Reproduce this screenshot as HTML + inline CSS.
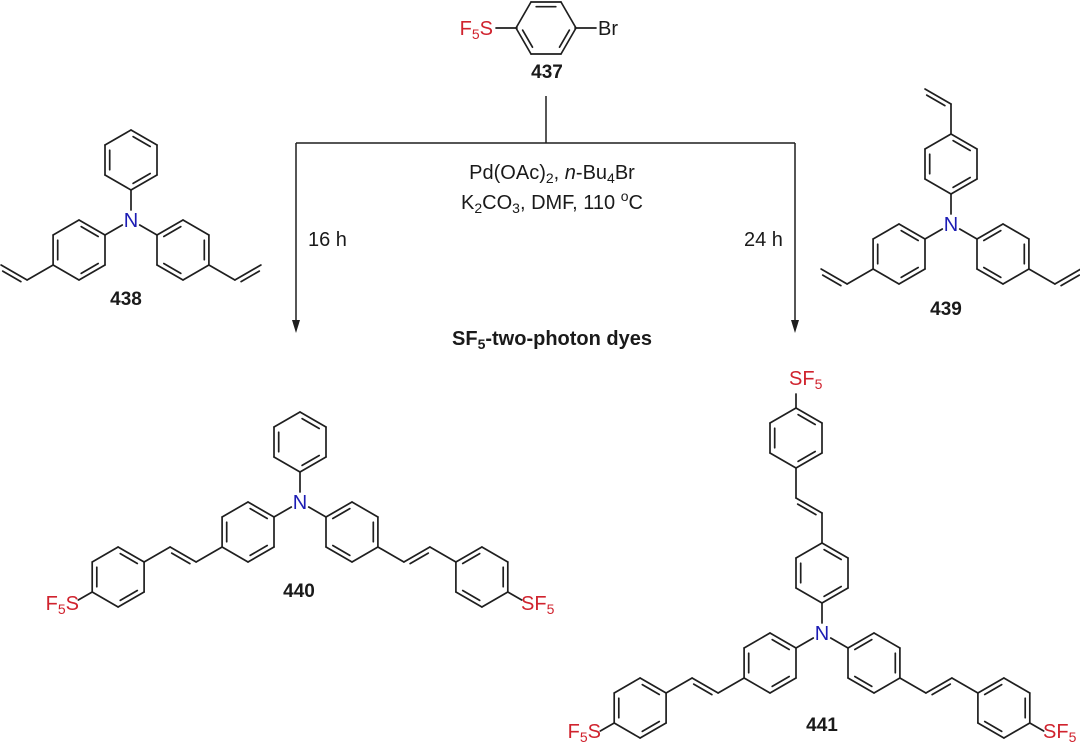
<!DOCTYPE html>
<html><head><meta charset="utf-8">
<style>
html,body{margin:0;padding:0;background:#fff;}
svg{display:block;font-family:"Liberation Sans",Arial,sans-serif;}
.r{fill:#d0232e;}
.n{fill:#1c1cb4;}
.t{fill:#1a1a1a;}
.b{font-weight:bold;}
</style></head>
<body>
<svg id="s" width="1080" height="743" viewBox="0 0 1080 743" xmlns="http://www.w3.org/2000/svg">
<g id="bonds" stroke="#1f1f1f" stroke-width="1.7" stroke-linecap="round" fill="none"></g>

<g stroke="#1f1f1f" stroke-width="1.5" fill="none">
<line x1="546" y1="96" x2="546" y2="143"/>
<line x1="296" y1="143" x2="795" y2="143"/>
<line x1="296" y1="143" x2="296" y2="324"/>
<line x1="795" y1="143" x2="795" y2="324"/>
</g>
<polygon points="292,320 300,320 296,333" fill="#1f1f1f"/>
<polygon points="791,320 799,320 795,333" fill="#1f1f1f"/>

<!-- 437 -->
<text class="r" x="493" y="35" font-size="20" text-anchor="end">F<tspan font-size="14" dy="4">5</tspan><tspan dy="-4">S</tspan></text>
<text class="t" x="598" y="35" font-size="20">Br</text>
<text class="t b" x="547" y="78" font-size="19" text-anchor="middle">437</text>

<!-- reagents -->
<text class="t" x="552" y="179" font-size="20" text-anchor="middle">Pd(OAc)<tspan font-size="14" dy="4">2</tspan><tspan dy="-4">, </tspan><tspan font-style="italic">n</tspan>-Bu<tspan font-size="14" dy="4">4</tspan><tspan dy="-4">Br</tspan></text>
<text class="t" x="552" y="209" font-size="20" text-anchor="middle">K<tspan font-size="14" dy="4">2</tspan><tspan dy="-4">CO</tspan><tspan font-size="14" dy="4">3</tspan><tspan dy="-4">, DMF, 110 </tspan><tspan font-size="14" dy="-8">o</tspan><tspan dy="8">C</tspan></text>
<text class="t" x="308" y="246" font-size="20">16 h</text>
<text class="t" x="744" y="246" font-size="20">24 h</text>
<text class="t b" x="552" y="345" font-size="20" text-anchor="middle">SF<tspan font-size="14" dy="4">5</tspan><tspan dy="-4">-two-photon dyes</tspan></text>

<!-- 438 -->
<text class="n" x="131" y="227" font-size="20" text-anchor="middle">N</text>
<text class="t b" x="126" y="305" font-size="19" text-anchor="middle">438</text>

<!-- 439 -->
<text class="n" x="951" y="231" font-size="20" text-anchor="middle">N</text>
<text class="t b" x="946" y="315" font-size="19" text-anchor="middle">439</text>

<!-- 440 -->
<text class="n" x="300" y="509" font-size="20" text-anchor="middle">N</text>
<text class="t b" x="299" y="597" font-size="19" text-anchor="middle">440</text>
<text class="r" x="79" y="610" font-size="20" text-anchor="end">F<tspan font-size="14" dy="4">5</tspan><tspan dy="-4">S</tspan></text>
<text class="r" x="521" y="610" font-size="20">SF<tspan font-size="14" dy="4">5</tspan></text>

<!-- 441 -->
<text class="n" x="822" y="640" font-size="20" text-anchor="middle">N</text>
<text class="t b" x="822" y="731" font-size="19" text-anchor="middle">441</text>
<text class="r" x="789" y="385" font-size="20">SF<tspan font-size="14" dy="4">5</tspan></text>
<text class="r" x="601" y="738" font-size="20" text-anchor="end">F<tspan font-size="14" dy="4">5</tspan><tspan dy="-4">S</tspan></text>
<text class="r" x="1043" y="738" font-size="20">SF<tspan font-size="14" dy="4">5</tspan></text>
</svg>
<script>
(function(){
var g=document.getElementById('bonds');
var NS='http://www.w3.org/2000/svg';
var L=30;
function line(a,b){var e=document.createElementNS(NS,'line');e.setAttribute('x1',a[0].toFixed(1));e.setAttribute('y1',a[1].toFixed(1));e.setAttribute('x2',b[0].toFixed(1));e.setAttribute('y2',b[1].toFixed(1));g.appendChild(e);}
function go(p,d,len){var a=d*Math.PI/180;return [p[0]+len*Math.cos(a),p[1]+len*Math.sin(a)];}
function V(c,k,off){return go(c,off+60*k,L);}
function ring(c,dbls,off){
  if(off===undefined)off=-90;
  for(var k=0;k<6;k++)line(V(c,k,off),V(c,k+1,off));
  dbls.forEach(function(k){
    var a=V(c,k,off),b=V(c,k+1,off),f=0.82;
    var a2=[c[0]+(a[0]-c[0])*f,c[1]+(a[1]-c[1])*f],b2=[c[0]+(b[0]-c[0])*f,c[1]+(b[1]-c[1])*f];
    var m=0.1;
    line([a2[0]+(b2[0]-a2[0])*m,a2[1]+(b2[1]-a2[1])*m],[b2[0]+(a2[0]-b2[0])*m,b2[1]+(a2[1]-b2[1])*m]);
  });
}
function dbl(a,b){
  line(a,b);
  var dx=b[0]-a[0],dy=b[1]-a[1],len=Math.hypot(dx,dy);
  var n=[-dy/len,dx/len]; if(n[1]<0||(n[1]===0&&n[0]<0)){n=[-n[0],-n[1]];}
  var o=4.5,s=0.15;
  line([a[0]+dx*s+n[0]*o,a[1]+dy*s+n[1]*o],[b[0]-dx*s+n[0]*o,b[1]-dy*s+n[1]*o]);
}
function edges(d){return d===30?[1,3,5]:[0,2,4];}
function arm(N,d){
  var v=go(N,d,30),c=go(N,d,60);
  line(go(N,d,10),v);
  ring(c,edges(d));
  return go(N,d,90);
}
function vinyl(far,d1,d2){var a=go(far,d1,30);line(far,a);dbl(a,go(a,d2,30));}
function styryl(far,d,d2,slen){
  var a=go(far,d,30);line(far,a);
  var b=go(a,d2,30);dbl(a,b);
  var c=go(b,d,30);line(b,c);
  var cc=go(c,d,30);ring(cc,edges(d));
  var f=go(c,d,60);line(f,go(f,d,slen));
}
ring([546,28],[2,4,0],0);
line([517,28],[496,28]);line([575,28],[596,28]);
var N=[131,220];
arm(N,-90);
vinyl(arm(N,150),150,210);
vinyl(arm(N,30),30,330);
N=[951,224];
vinyl(arm(N,-90),-90,210);
vinyl(arm(N,150),150,210);
vinyl(arm(N,30),30,330);
N=[300,502];
arm(N,-90);
styryl(arm(N,150),150,210,16);
styryl(arm(N,30),30,330,16);
N=[822,633];
styryl(arm(N,-90),-90,210,14);
styryl(arm(N,150),150,210,16);
styryl(arm(N,30),30,330,16);
})();
</script>
</body></html>
